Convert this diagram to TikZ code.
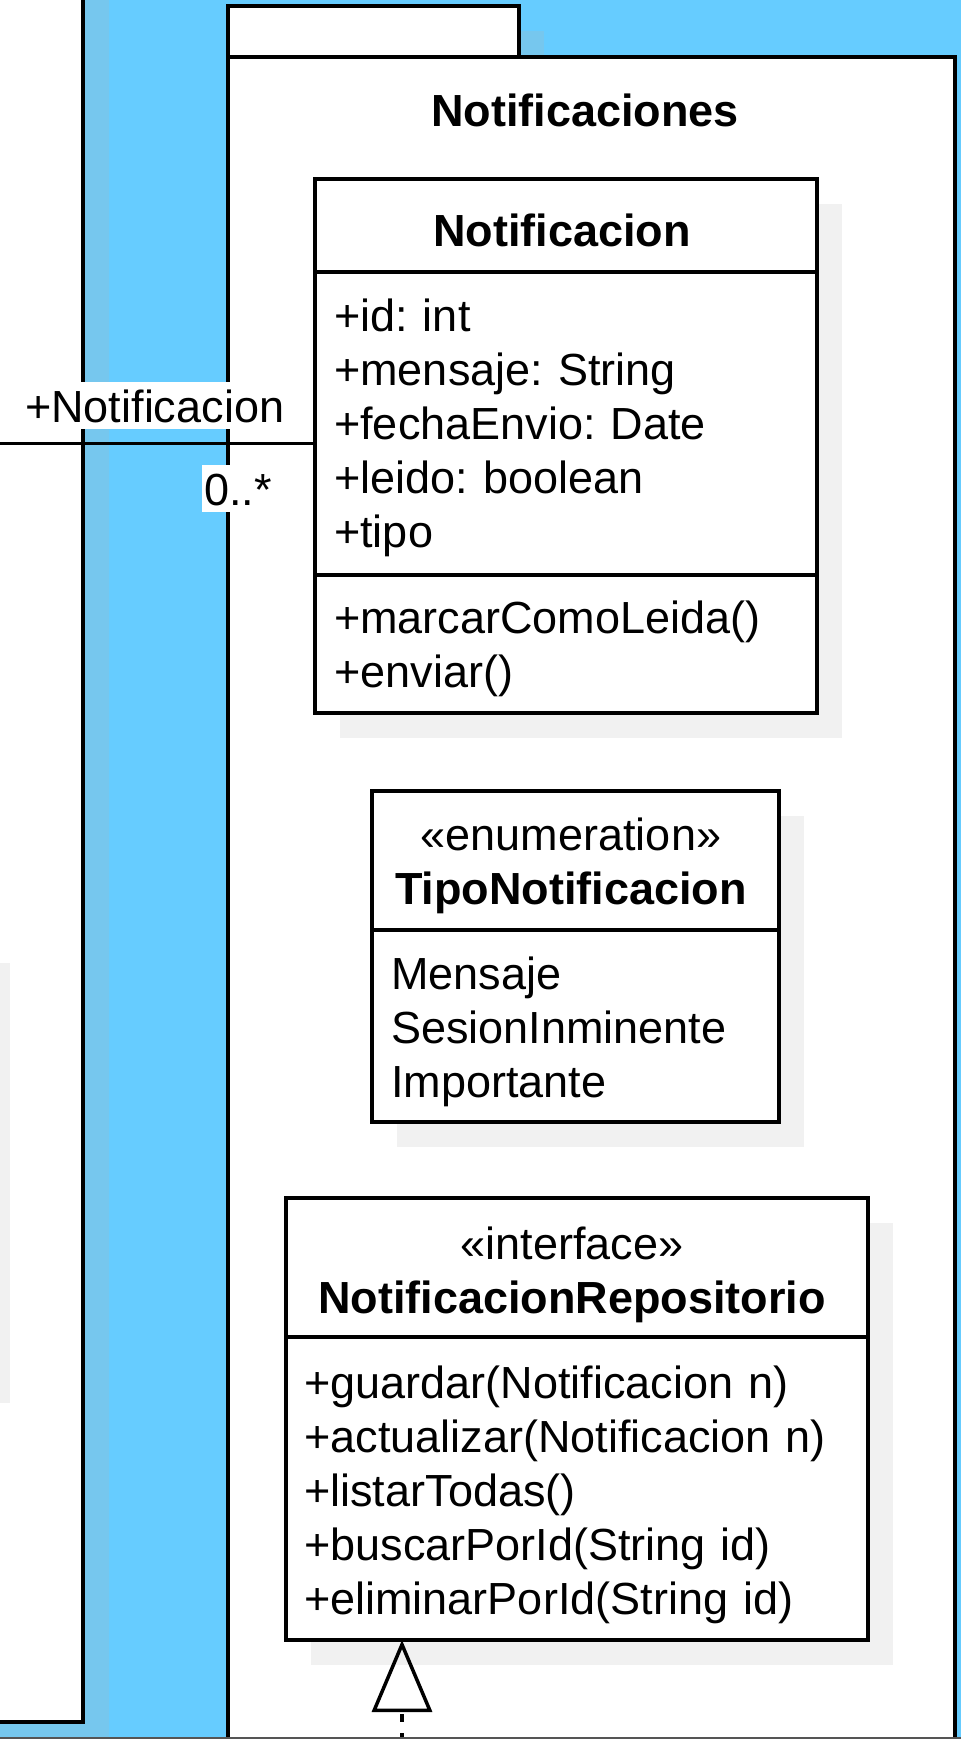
\documentclass[tikz,border=0pt]{standalone}
\usepackage{fontspec}
\setmainfont{Liberation Sans}
\usepackage{tikz}
\usetikzlibrary{arrows.meta,shadows}
\usetikzlibrary{positioning}
\definecolor{pkgblue}{HTML}{66CCFF}
\definecolor{shadowblue}{HTML}{76C7EE}
\definecolor{shadowgray}{HTML}{F1F1F1}
\definecolor{edgegray}{HTML}{555555}
\frenchspacing
\newcommand{\umlsize}{\fontsize{45}{54}\selectfont}
\tikzset{
    compart/.style={
           rectangle,
           draw=black, line width=3.5pt,
           fill=white,
           inner sep=0pt, outer sep=0pt,
           anchor=north west,
           drop shadow={shadow xshift=25pt, shadow yshift=-25pt, fill=shadowgray, opacity=1},
           },
    pkgframe/.style={
           draw=black, line width=3.5pt,
           fill=white,
           },
    member/.style={
           anchor=base west,
           align=left,
           inner sep=0pt,
           font=\umlsize,
           },
    headtext/.style={
           anchor=base,
           align=center,
           text width=560pt,
           inner sep=0pt,
           font=\umlsize,
           },
    rolelabel/.style={
           anchor=base west,
           fill=white,
           inner xsep=2pt, inner ysep=2pt,
           text height=38pt, text depth=5pt,
           font=\umlsize,
           },
    assoc/.style={
           draw=black, line width=3pt,
           },
    implements/.style={
           {Triangle[open, length=72pt, width=60pt]}-,
           line width=3.5pt,
           dash pattern=on 8pt off 11pt, dash phase=16pt,
           }
}
\begin{document}
\begin{tikzpicture}[x=1pt,y=-1pt]
\useasboundingbox (0,0) rectangle (961,1739);
\clip (0,0) rectangle (961,1739);
\fill[pkgblue] (0,0) rectangle (961,1739);
% neighbouring package on the left
\fill[shadowblue] (0,0) rectangle (109,1739);
\draw[pkgframe] (-20,-20) rectangle (83,1722);
\fill[shadowgray] (-20,963) rectangle (10,1403);
% package Notificaciones
\fill[shadowblue] (253,31) rectangle (544,57);
\draw[pkgframe] (228,6) rectangle (519,57);
\draw[pkgframe] (228,57) rectangle (955,1800);
\node[headtext, font=\umlsize\bfseries] (pkgName) at (585,127) {Notificaciones};

% class Notificacion
\node[compart, minimum width=502pt, minimum height=93pt] (nclsHead) at (315,179) {};
\node[compart, minimum width=502pt, minimum height=303pt, below=0pt of nclsHead] (nclsAttr) {};
\node[compart, minimum width=502pt, minimum height=138pt, below=0pt of nclsAttr] (nclsOps) {};
\node[headtext, font=\umlsize\bfseries] (nclsName) at (562,246) {Notificacion};
\node[member, text width=470pt] (nclsAttrText) at (334,331) {+id: int\\+mensaje: String\\+fechaEnvio: Date\\+leido: boolean\\+tipo};
\node[member, text width=470pt] (nclsOpsText) at (334,633) {+marcarComoLeida()\\+enviar()};

% enumeration TipoNotificacion
\node[compart, minimum width=407pt, minimum height=139pt] (ntipoHead) at (372,791) {};
\node[compart, minimum width=407pt, minimum height=192pt, below=0pt of ntipoHead] (ntipoVals) {};
\node[headtext] (ntipoName) at (571,850) {«enumeration»\\\textbf{TipoNotificacion}};
\node[member, text width=380pt] (ntipoValText) at (391,989) {Mensaje\\SesionInminente\\Importante};

% interface NotificacionRepositorio
\node[compart, minimum width=582pt, minimum height=139pt] (nrepoHead) at (286,1198) {};
\node[compart, minimum width=582pt, minimum height=303pt, below=0pt of nrepoHead] (nrepoOps) {};
\node[headtext] (nrepoName) at (572,1259) {«interface»\\\textbf{NotificacionRepositorio}};
\node[member, text width=560pt] (nrepoOpsText) at (304,1398) {+guardar(Notificacion n)\\+actualizar(Notificacion n)\\+listarTodas()\\+buscarPorId(String id)\\+eliminarPorId(String id)};

% association from the left package
\coordinate (assocEnd) at (-10,443);
\draw[assoc] (assocEnd) -- (assocEnd -| nclsAttr.west);
\node[rolelabel] (roleName) at (23,422) {+Notificacion};
\node[rolelabel] (roleMult) at (202,505) {0..*};

% realization of the repository
\coordinate (implEnd) at (402,1760);
\draw[implements] (nrepoOps.south -| implEnd) -- (implEnd);

\fill[edgegray] (0,1737) rectangle (961,1739);
\end{tikzpicture}
\end{document}
